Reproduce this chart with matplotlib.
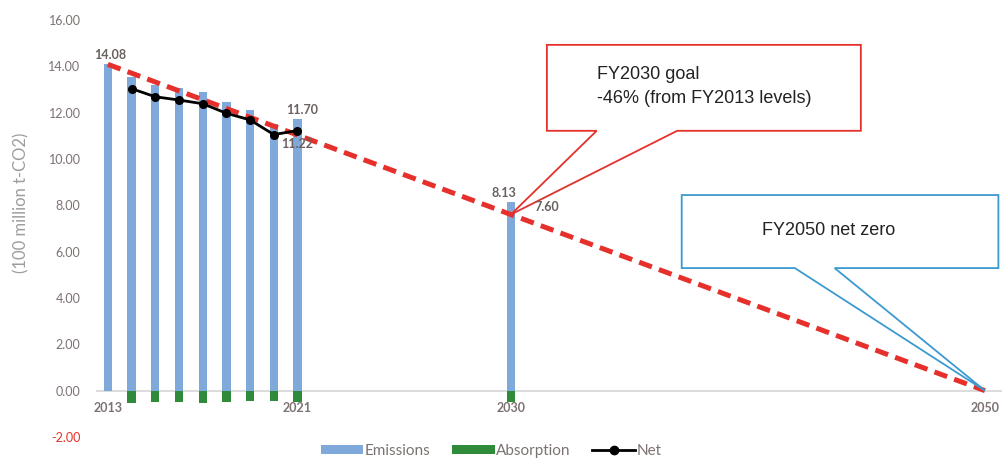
import matplotlib
matplotlib.use("Agg")
import matplotlib.pyplot as plt
from matplotlib.patches import Polygon, Patch
from matplotlib.lines import Line2D

# === DATA ===
emis_years = [2013, 2014, 2015, 2016, 2017, 2018, 2019, 2020, 2021, 2030]
emissions = [14.08, 13.55, 13.18, 13.04, 12.90, 12.47, 12.12, 11.50, 11.70, 8.13]

absorb_years = [2014, 2015, 2016, 2017, 2018, 2019, 2020, 2021, 2030]
absorption = [-0.52, -0.50, -0.50, -0.52, -0.50, -0.44, -0.45, -0.48, -0.48]

net_years = [2014, 2015, 2016, 2017, 2018, 2019, 2020, 2021]
net = [13.03, 12.68, 12.54, 12.38, 11.97, 11.68, 11.05, 11.22]

path_years = [2013, 2030, 2050]
path_vals = [14.08, 7.60, 0.0]

xtick_years = [2013, 2021, 2030, 2050]
yticks = [-2, 0, 2, 4, 6, 8, 10, 12, 14, 16]

# === STYLE ===
BLUE = "#80a9db"
GREEN = "#2f8a3a"
RED = "#e5302b"
CALLOUT_BLUE = "#3b9ad0"
TICK_GRAY = "#7d7272"
LABEL_GRAY = "#a19c9c"
BAR_W = 0.35

plt.rcParams["font.family"] = ["Lato", "DejaVu Sans"]

fig = plt.figure(figsize=(10.02, 4.61), dpi=100)
ax = fig.add_axes([0.097, 0.052, 0.903, 0.905])

ax.bar(emis_years, emissions, BAR_W, color=BLUE, zorder=2)
ax.bar(absorb_years, absorption, BAR_W, color=GREEN, zorder=2)
ax.plot(path_years, path_vals, color=RED, lw=3.6, dashes=(2.7, 1.5),
        dash_capstyle="butt", zorder=4)
ax.plot(net_years, net, color="black", lw=2, marker="o", ms=5.5, zorder=5)

ax.set_xlim(2012.55, 2050.72)
ax.set_ylim(-2, 16)

# axes styling: only a light zero line
for s in ["top", "right", "left"]:
    ax.spines[s].set_visible(False)
ax.spines["bottom"].set_position(("data", 0))
ax.spines["bottom"].set_color("#d6d6d6")
ax.spines["bottom"].set_linewidth(1.2)
ax.spines["bottom"].set_zorder(1)

ax.set_xticks(xtick_years)
ax.set_xticklabels([str(y) for y in xtick_years])
ax.tick_params(axis="x", length=0, pad=8, labelsize=9, colors=TICK_GRAY)
ax.set_yticks(yticks)
ax.set_yticklabels([f"{v:.2f}" for v in yticks])
ax.tick_params(axis="y", length=0, pad=12, labelsize=9, colors=TICK_GRAY)
ax.get_yticklabels()[0].set_color(RED)
for lab in ax.get_xticklabels():
    lab.set_fontweight("bold")

fig.text(0.021, 0.56, "(100 million t-CO2)", rotation=90, ha="center",
         va="center", fontsize=12, color=LABEL_GRAY)

# value labels
lab_kw = dict(fontsize=9, color="#6a6060", fontweight="bold", zorder=8)
ax.text(2013.1, emissions[0] + 0.15, "14.08", ha="center", va="bottom", **lab_kw)
ax.text(2021.2, emissions[8] + 0.15, "11.70", ha="center", va="bottom", **lab_kw)
ax.text(2021.0, net[-1] - 0.3, "11.22", ha="center", va="top", **lab_kw)
ax.text(2029.7, emissions[-1] + 0.15, "8.13", ha="center", va="bottom", **lab_kw)
ax.text(2031.0, path_vals[1] + 0.05, "7.60", ha="left", va="bottom", **lab_kw)

# callouts (box in axes fraction, pointer tip at data point)
to_axes = ax.transData + ax.transAxes.inverted()


def callout(box, base, tip, color):
    x0, x1, y0, y1 = box
    tx, ty = to_axes.transform(tip)
    verts = [(x0, y0), (x0, y1), (x1, y1), (x1, y0),
             (base[1], y0), (tx, ty), (base[0], y0)]
    ax.add_patch(Polygon(verts, closed=True, transform=ax.transAxes,
                         facecolor="white", edgecolor=color, lw=1.3,
                         zorder=6, clip_on=False))


callout((0.497, 0.844, 0.734, 0.940), (0.552, 0.641), (2030, path_vals[1]), RED)
ax.text(0.552, 0.868, "FY2030 goal", transform=ax.transAxes, fontsize=13,
        family="Liberation Sans", color="#222222", va="center", zorder=7)
ax.text(0.552, 0.812, "-46% (from FY2013 levels)", transform=ax.transAxes,
        fontsize=13, family="Liberation Sans", color="#222222", va="center", zorder=7)

callout((0.646, 0.996, 0.405, 0.580), (0.771, 0.815), (2050, path_vals[2]), CALLOUT_BLUE)
ax.text(0.808, 0.495, "FY2050 net zero", transform=ax.transAxes, fontsize=13,
        family="Liberation Sans", color="#222222", ha="center", va="center", zorder=7)

# legend below the axes
handles = [
    Patch(facecolor=BLUE, label="Emissions"),
    Patch(facecolor=GREEN, label="Absorption"),
    Line2D([], [], color="black", lw=2, marker="o", ms=6, label="Net"),
]
fig.legend(handles=handles, loc="center", bbox_to_anchor=(0.49, 0.022),
           ncol=3, frameon=False, fontsize=11, labelcolor=TICK_GRAY,
           handlelength=2.8, handleheight=0.6, handletextpad=0.1,
           columnspacing=1.4)

fig.savefig("out.png", dpi=100)
